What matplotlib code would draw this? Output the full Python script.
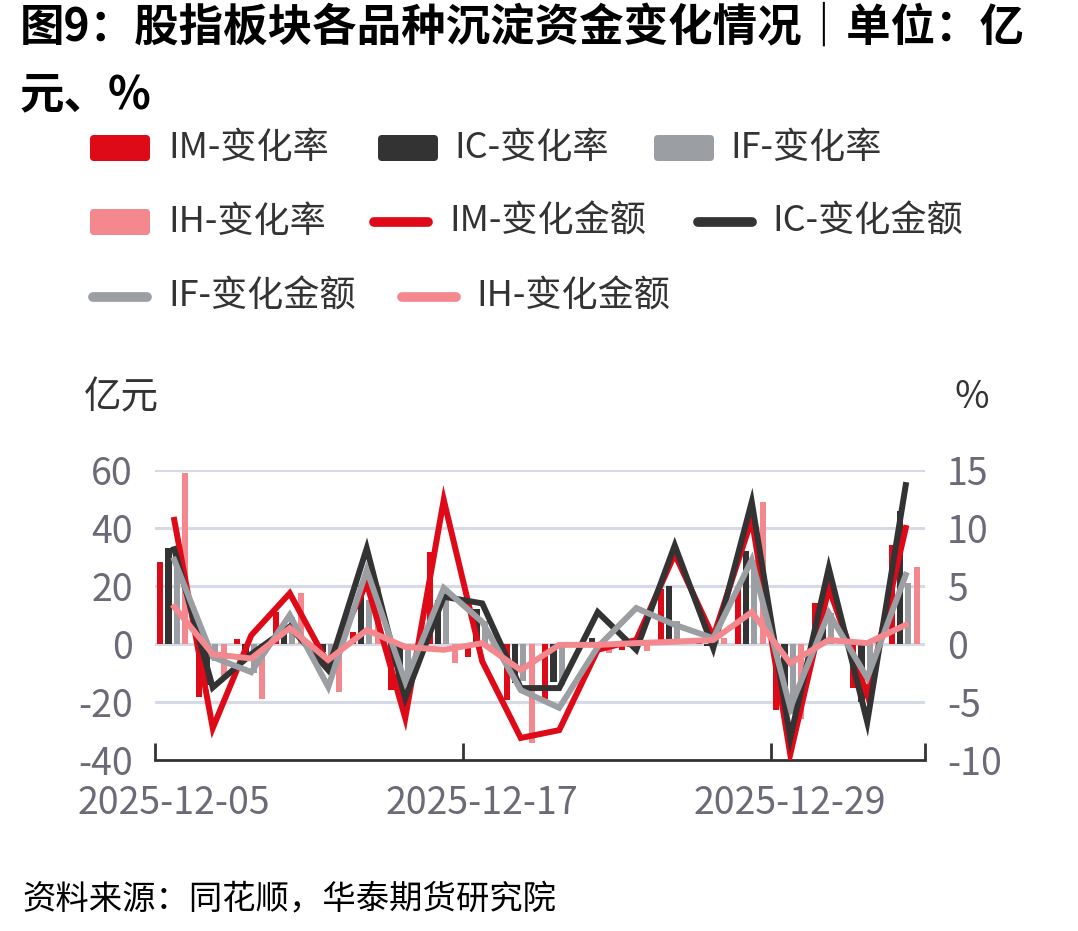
import numpy as np
import matplotlib.pyplot as plt
from matplotlib.patches import FancyBboxPatch
from matplotlib.lines import Line2D

plt.rcParams['font.family'] = ['Noto Sans CJK SC', 'DejaVu Sans']
plt.rcParams['axes.unicode_minus'] = False

# trading days
dates = ['2025-12-05', '2025-12-08', '2025-12-09', '2025-12-10', '2025-12-11',
         '2025-12-12', '2025-12-15', '2025-12-16', '2025-12-17', '2025-12-18',
         '2025-12-19', '2025-12-22', '2025-12-23', '2025-12-24', '2025-12-25',
         '2025-12-26', '2025-12-29', '2025-12-30', '2025-12-31', '2026-01-05']

# change rate, % (right axis, bars)
im_pct = [7.1, -4.6, 0.4, 2.8, -1.5, 1.0, -4.0, 7.9, -1.1, -4.8,
          -4.7, -0.3, -0.5, 4.7, 0.3, 4.9, -5.7, 3.5, -3.8, 8.5]
ic_pct = [8.3, -3.5, -1.0, 1.0, -0.7, 5.1, -4.5, 3.8, 3.0, -3.4,
          -3.3, 0.5, -0.3, 5.0, -0.2, 8.0, -6.0, 4.0, -5.0, 11.5]
if_pct = [7.5, -1.5, -2.5, 2.3, -2.0, 3.8, -3.5, 4.8, 2.0, -3.2,
          -3.5, 0.2, 1.0, 2.0, 0.5, 7.2, -6.0, 2.7, -3.0, 5.3]
ih_pct = [14.7, -2.8, -4.7, 4.4, -4.1, 4.9, -0.5, -1.6, -0.3, -8.5,
          -0.2, -0.8, -0.6, 0.2, 0.5, 12.2, -6.5, 0.5, 0.2, 6.6]

# change amount, 亿元 (left axis, lines)
im_amt = [42.8, -29.0, 3.0, 17.5, -7.0, 21.0, -25.5, 49.7, -6.0, -32.4,
          -29.7, -2.0, 1.4, 31.0, 2.4, 43.0, -38.0, 19.3, -17.6, 40.0]
ic_amt = [32.7, -15.0, -3.5, 6.0, -9.0, 33.0, -18.6, 16.3, 14.0, -15.2,
          -15.2, 11.0, -2.0, 34.0, -1.4, 49.0, -32.4, 26.2, -26.9, 54.8]
if_amt = [29.0, -4.5, -9.7, 10.0, -14.8, 25.5, -13.0, 19.3, 7.6, -15.9,
          -22.0, -1.0, 12.4, 6.6, 2.0, 29.0, -22.0, 10.7, -11.7, 23.8]
ih_amt = [12.8, -3.5, -5.0, 5.5, -5.5, 4.8, -1.0, -2.0, 0.3, -9.0,
          -0.3, -0.3, 0.3, 0.8, 1.4, 11.0, -6.6, 1.4, 0.3, 6.6]

red = '#df0a17'
dark = '#333333'
gray = '#9b9ea2'
pink = '#f3898f'
tick_gray = '#6b6b78'

fig = plt.figure(figsize=(10.78, 9.31), dpi=100)
W, H = 1078, 931

# bars on the right (percent) axis, lines on the left axis drawn on top
axr = fig.add_axes([155 / W, 1 - 760 / H, 770 / W, 290 / H])
ax = axr.twinx()
axr.yaxis.tick_right()
ax.yaxis.tick_left()
ax.set_zorder(axr.get_zorder() + 1)
ax.patch.set_visible(False)

x = np.arange(len(dates))
bw = 0.16
step = 0.215
for k, (vals, col) in enumerate([(im_pct, red), (ic_pct, dark), (if_pct, gray), (ih_pct, pink)]):
    axr.bar(x + (k - 1.5) * step - 0.04, vals, width=bw, color=col, zorder=2)

for vals, col in [(im_amt, red), (ic_amt, dark), (if_amt, gray), (ih_amt, pink)]:
    ax.plot(x, vals, color=col, lw=4.3, solid_joinstyle='miter', zorder=3)

ax.set_ylim(-40, 60)
axr.set_ylim(-10, 15)
axr.set_xlim(-0.5, len(dates) - 0.5)
ax.set_yticks([-40, -20, 0, 20, 40, 60])
axr.set_yticks([-10, -5, 0, 5, 10, 15])

axr.set_axisbelow(True)
axr.grid(axis='y', color='#d6dae6', lw=2.2)
axr.get_ygridlines()[0].set_visible(False)
axr.tick_params(axis='y', length=0, pad=16, labelsize=27, labelcolor=tick_gray)
ax.tick_params(axis='y', length=0, pad=16, labelsize=27, labelcolor=tick_gray)

for a in (ax, axr):
    for s in ('top', 'left', 'right', 'bottom'):
        a.spines[s].set_visible(False)
axr.spines['bottom'].set_visible(True)
axr.spines['bottom'].set_color(dark)
axr.spines['bottom'].set_linewidth(2)

# ticks at category boundaries, labels at centres
axr.set_xticks([-0.5, 7.5, 15.5, len(dates) - 0.5])
axr.set_xticklabels([])
axr.tick_params(axis='x', which='major', direction='in', length=12, width=2, color=dark)
axr.set_xticks([0, 8, 16], minor=True)
axr.set_xticklabels([dates[0], dates[8], dates[16]], minor=True,
                    fontsize=27, color=tick_gray)
axr.tick_params(axis='x', which='minor', length=0, pad=17)

# overlay in pixel coordinates for titles and legend
ov = fig.add_axes([0, 0, 1, 1])
ov.set_xlim(0, W)
ov.set_ylim(H, 0)
ov.axis('off')

ov.text(20, 28, '图9：股指板块各品种沉淀资金变化情况｜单位：亿', fontsize=32,
        fontweight='bold', color='black', va='center', ha='left')
ov.text(20, 95, '元、%', fontsize=32, fontweight='bold', color='black',
        va='center', ha='left')

legend_rows = [
    [('IM-变化率', 'bar', red, 89, 168), ('IC-变化率', 'bar', dark, 377, 454),
     ('IF-变化率', 'bar', gray, 653, 730)],
    [('IH-变化率', 'bar', pink, 89, 168), ('IM-变化金额', 'line', red, 370, 449),
     ('IC-变化金额', 'line', dark, 694, 772)],
    [('IF-变化金额', 'line', gray, 89, 168), ('IH-变化金额', 'line', pink, 398, 476)],
]
row_y = [148, 222, 297]
for yy, row in zip(row_y, legend_rows):
    for label, kind, col, hx, tx in row:
        if kind == 'bar':
            ov.add_patch(FancyBboxPatch((hx + 3, yy - 11), 56, 22,
                                        boxstyle='round,pad=2,rounding_size=4',
                                        fc=col, ec='none'))
        else:
            ov.add_line(Line2D([hx + 4, hx + 58], [yy, yy], color=col, lw=7,
                               solid_capstyle='round'))
        ov.text(tx, yy, label, fontsize=26, color='#333333', va='center', ha='left')

ov.text(84, 398, '亿元', fontsize=27, color='#333333', va='center', ha='left')
ov.text(955, 398, '%', fontsize=27, color='#333333', va='center', ha='left')

ov.text(22, 900, '资料来源：同花顺，华泰期货研究院', fontsize=24, color='black',
        va='center', ha='left', style='italic')

fig.savefig('out.png', dpi=100)
